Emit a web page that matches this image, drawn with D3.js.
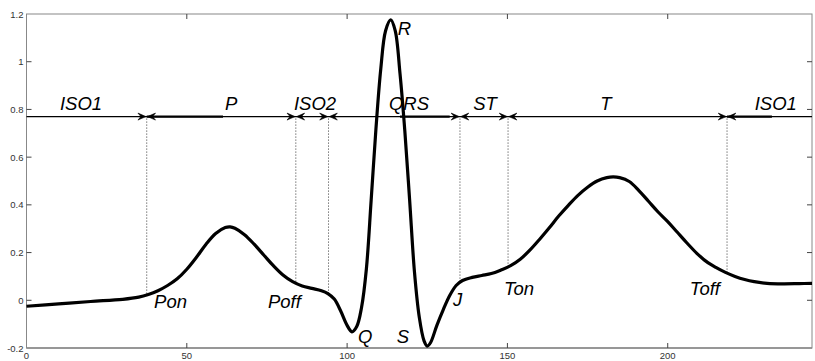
<!DOCTYPE html>
<html><head><meta charset="utf-8">
<script src="https://cdn.jsdelivr.net/npm/d3@7"></script>
<style>body{margin:0;background:#fff;} svg{display:block;}</style>
</head><body>
<svg id="c" width="815" height="361"></svg>
<script>
const xs = [0,10,20,30,35,38,41,44,47,50,53,56,59,62,63.5,65,68,71,74,77,80,83,86,89,92,94,96,98,100,101.5,103,104.5,106,107.5,109,110.5,112,113.6,115,116.5,118,119.5,121,122.5,124,125,126,128,130,132,134,136,139,142,145,148,151,154,157,160,163,166,169,172,175,178,181,183,185,188,191,194,197,200,203,206,209,212,215,218,221,224,227,231,236,241,245];
const ys = [-0.025,-0.015,-0.005,0.004,0.013,0.024,0.04,0.062,0.09,0.13,0.18,0.235,0.28,0.305,0.308,0.302,0.275,0.235,0.19,0.145,0.106,0.078,0.06,0.05,0.04,0.028,0.005,-0.045,-0.105,-0.132,-0.11,-0.03,0.13,0.42,0.72,0.97,1.13,1.175,1.13,0.95,0.71,0.42,0.12,-0.07,-0.17,-0.192,-0.178,-0.105,-0.039,0.02,0.062,0.083,0.096,0.104,0.112,0.127,0.145,0.172,0.21,0.255,0.303,0.353,0.398,0.44,0.474,0.5,0.514,0.517,0.514,0.498,0.46,0.415,0.37,0.33,0.285,0.24,0.198,0.163,0.138,0.117,0.1,0.087,0.078,0.071,0.069,0.07,0.071];
const xTicks = [0,50,100,150,200];
const yTicks = [-0.2,0,0.2,0.4,0.6,0.8,1,1.2];
const yTickLabels = ["-0.2","0","0.2","0.4","0.6","0.8","1","1.2"];
const bounds = [37.5,84,94.2,135.2,150.2,218.5];
const boundY = [0.024,0.07,0.025,0.08,0.145,0.115];
const arrowLevel = 0.77;
const segNames = ["ISO1","P","ISO2","QRS","ST","T","ISO1"];
const segX = [17,63.8,90,119.3,143,180.7,233.7];
const ptNames = ["Pon","Poff","Q","R","S","J","Ton","Toff"];
const ptX = [39.8,75.3,103.4,115.8,115.5,133,148.9,206.9];
const ptY = [-0.031,-0.031,-0.177,1.112,-0.177,-0.022,0.024,0.024];
const boldSegs = [[37.5,61.3],[116.5,132],[218.5,232.5]];

const svg = d3.select("#c");
const L=26.5, R=812, T=14, B=348;
const x = d3.scaleLinear().domain([0,245]).range([L,R]);
const y = d3.scaleLinear().domain([-0.2,1.2]).range([B,T]);
const font = "Arial, 'Liberation Sans', sans-serif";
const axisCol = "#888";

svg.append("rect").attr("x",L).attr("y",T).attr("width",R-L).attr("height",B-T)
  .attr("fill","none").attr("stroke",axisCol).attr("stroke-width",1);
svg.append("line").attr("x1",L).attr("x2",R).attr("y1",B).attr("y2",B).attr("stroke",axisCol).attr("stroke-width",1.6);
const g = svg.append("g");
xTicks.forEach(t=>{
  if(t>0){
  g.append("line").attr("x1",x(t)).attr("x2",x(t)).attr("y1",B).attr("y2",B-5).attr("stroke","#444");
  g.append("line").attr("x1",x(t)).attr("x2",x(t)).attr("y1",T).attr("y2",T+5).attr("stroke","#444");
  }
  g.append("text").attr("x",x(t)).attr("y",B+11).attr("text-anchor","middle")
   .attr("font-family",font).attr("font-size",9.5).attr("fill","#333").text(t);
});
yTicks.forEach((t,i)=>{
  if(i>0 && i<yTicks.length-1){
  g.append("line").attr("x1",L).attr("x2",L+5).attr("y1",y(t)).attr("y2",y(t)).attr("stroke","#444");
  g.append("line").attr("x1",R).attr("x2",R-5).attr("y1",y(t)).attr("y2",y(t)).attr("stroke","#444");
  }
  g.append("text").attr("x",L-3).attr("y",y(t)+3.5).attr("text-anchor","end")
   .attr("font-family",font).attr("font-size",9.5).attr("fill","#333").text(yTickLabels[i]);
});

bounds.forEach((b,i)=>{
  svg.append("line").attr("x1",x(b)).attr("x2",x(b)).attr("y1",y(arrowLevel)+2).attr("y2",y(boundY[i]))
    .attr("stroke","#333").attr("stroke-width",1).attr("stroke-dasharray","1,2");
});

const ay = y(arrowLevel);
svg.append("line").attr("x1",L).attr("x2",R).attr("y1",ay).attr("y2",ay).attr("stroke","#000").attr("stroke-width",1.2);
boldSegs.forEach(s=>{
  svg.append("line").attr("x1",x(s[0])).attr("x2",x(s[1])).attr("y1",ay).attr("y2",ay).attr("stroke","#000").attr("stroke-width",2.2);
});
bounds.forEach(b=>{
  const bx=x(b);
  [-1,1].forEach(d=>{
    const tip = bx + d*0.8;
    svg.append("path").attr("d",`M${tip},${ay} L${tip+d*8},${ay-3.5} L${tip+d*5},${ay} L${tip+d*8},${ay+3.5} Z`)
      .attr("fill","#000").attr("stroke","#000").attr("stroke-width",0.6);
  });
});

const pts = xs.map((v,i)=>[v,ys[i]]);
svg.append("path").datum(pts)
  .attr("d",d3.line().x(d=>x(d[0])).y(d=>y(d[1])).curve(d3.curveCatmullRom.alpha(0.5)))
  .attr("fill","none").attr("stroke","#000").attr("stroke-width",3.2).attr("stroke-linejoin","round");

segNames.forEach((n,i)=>{
  svg.append("text").attr("x",x(segX[i])).attr("y",ay-6.5).attr("text-anchor","middle")
    .attr("font-family",font).attr("font-style","italic").attr("font-size",18.5).attr("fill","#000").text(n);
});
ptNames.forEach((n,i)=>{
  svg.append("text").attr("x",x(ptX[i])).attr("y",y(ptY[i])).attr("text-anchor","start")
    .attr("font-family",font).attr("font-style","italic").attr("font-size",18.5).attr("fill","#000").text(n);
});
</script>
</body></html>
